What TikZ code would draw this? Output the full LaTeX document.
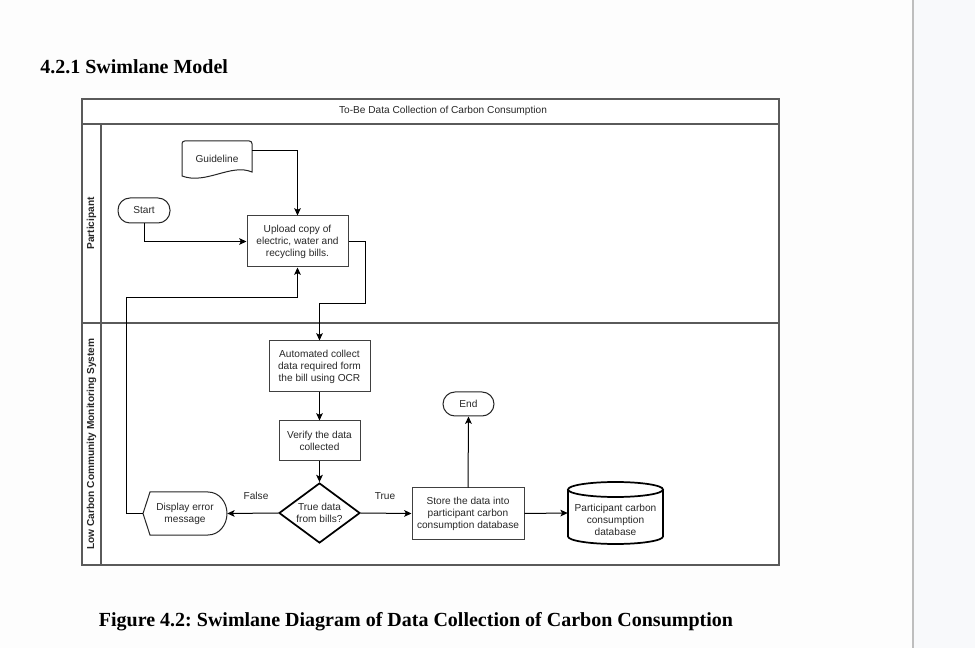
\documentclass[tikz,border=0pt]{standalone}
\usepackage{fontspec}
\setmainfont{Liberation Serif}
\setsansfont{Liberation Sans}
\usetikzlibrary{arrows.meta,shapes.geometric,calc}
\frenchspacing
\definecolor{pagebg}{RGB}{253,253,253}
\definecolor{panelbg}{RGB}{248,249,251}
\definecolor{panelline}{RGB}{190,190,190}
\definecolor{ink}{RGB}{40,40,40}
\definecolor{lanecol}{RGB}{90,90,90}
\begin{document}
\begin{tikzpicture}[x=0.75pt,y=-0.75pt,
  lbl/.style={font=\sffamily\fontsize{7.6}{9}\selectfont, text=ink},
  proc/.style={lbl, draw=black!75, line width=0.75pt, fill=white, align=center, inner sep=1pt},
  term/.style={lbl, draw=black!85, line width=0.75pt, fill=white, rounded corners=9pt, inner sep=1pt},
  shapeline/.style={draw=black!85, line width=0.75pt, fill=white},
  boldline/.style={draw=black, line width=1.3pt, fill=white},
  flow/.style={draw=black, line width=0.75pt, -{Stealth[length=5.5pt,width=5pt,inset=1.3pt]}},
  lane/.style={draw=lanecol, line width=0.9pt},
  lanelbl/.style={font=\sffamily\bfseries\fontsize{7.6}{9}\selectfont, text=ink, rotate=90, inner sep=0},
  headtext/.style={inner sep=0, font=\bfseries\fontsize{15}{18}\selectfont},
]
\useasboundingbox (0,0) rectangle (975,648);
\fill[pagebg] (0,0) rectangle (913,648);
\fill[panelbg] (913,0) rectangle (975,648);
\draw[panelline, line width=1.2pt] (913,0) -- (913,648);

% heading and caption
\node[headtext, anchor=base west] (title) at (40,74) {4.2.1 Swimlane Model};
\node[headtext, anchor=base] (caption) at (416,626) {Figure 4.2: Swimlane Diagram of Data Collection of Carbon Consumption};

% pool and lanes
\draw[lane, fill=white] (82,99) rectangle (779,565);
\draw[lane] (82,124) -- (779,124);
\draw[lane] (82,323) -- (779,323);
\draw[lane] (101,124) -- (101,565);
\node[lbl] (pool) at (443,111) {To-Be Data Collection of Carbon Consumption};
\node[lanelbl] (lane1) at (91.5,223.5) {Participant};
\node[lanelbl] (lane2) at (91.5,444) {Low Carbon Community Monitoring System};

% Guideline document
\draw[shapeline] (182,176) [rounded corners=2pt] -- (182,141) -- (252,141) [sharp corners] -- (252,172)
  .. controls (231,163) and (206,185) .. (182,176) -- cycle;
\node[lbl, minimum width=52.5pt, minimum height=27pt, inner sep=0] (guide) at (217,159) {Guideline};

% participant lane nodes
\node[term, minimum width=39pt, minimum height=18.75pt] (start) at (144,210.5) {Start};
\node[proc, minimum width=75.75pt, minimum height=38.25pt] (upload) at (297.5,241.5)
  {Upload copy of\\electric, water and\\recycling bills.};

% system lane nodes
\node[proc, minimum width=75.75pt, minimum height=38.25pt] (auto) at (319.5,366.5)
  {Automated collect\\data required form\\the bill using OCR};
\node[proc, minimum width=60.75pt, minimum height=30pt] (verify) at (319.5,441)
  {Verify the data\\collected};
\node[lbl, diamond, boldline, align=center, inner sep=0, shape aspect=1.4,
      minimum width=60.75pt, minimum height=45pt] (dec) at (319.5,513) {True data\\from bills?};

% display error shape
\draw[shapeline] (143,513.5) -- (150,492) -- (208,492)
  .. controls (219,492) and (227,502) .. (227,513.5)
  .. controls (227,525) and (219,535) .. (208,535) -- (150,535) -- cycle;
\node[lbl, align=center, minimum width=63pt, minimum height=32.25pt, inner sep=0] (err) at (185,513.5)
  {Display error\\message};

\node[proc, minimum width=84pt, minimum height=38.25pt] (store) at (468,513.5)
  {Store the data into\\participant carbon\\consumption database};
\node[term, minimum width=38.25pt, minimum height=18pt] (end) at (468.5,404) {End};

% database cylinder
\draw[boldline] (568,489.5) -- (568,536.5)
  .. controls (568,540.6) and (589.3,544) .. (615.5,544)
  .. controls (641.7,544) and (663,540.6) .. (663,536.5) -- (663,489.5);
\draw[boldline] (615.5,489.5) ellipse [x radius=47.5, y radius=7.5];
\node[lbl, align=center, minimum width=71.25pt, minimum height=46.5pt, inner sep=0] (db) at (615.5,513) {};
\node[lbl, align=center, inner sep=0] (dbtext) at (615.5,520) {Participant carbon\\consumption\\database};

% connectors
\coordinate (b1) at (365,304);
\coordinate (b2) at (126,298);
\draw[flow] ($(guide.north east)+(0,9.5)$) -| (upload.north);
\draw[flow] (start.south) |- (upload.west);
\draw[flow] (upload.east) -| (b1) -| (auto.north);
\draw[flow] (auto) -- (verify);
\draw[flow] (verify) -- (dec);
\draw[flow] (dec.west) -- (err.east);
\draw[flow] (dec.east) -- (store.west);
\draw[flow] (store.north) -- (end.south);
\draw[flow] (store.east) -- (db.west);
\draw[flow] (err.west) -| (b2) -| (upload.south);
\node[lbl] (flabel) at (256,496) {False};
\node[lbl] (tlabel) at (385,496) {True};
\end{tikzpicture}
\end{document}
